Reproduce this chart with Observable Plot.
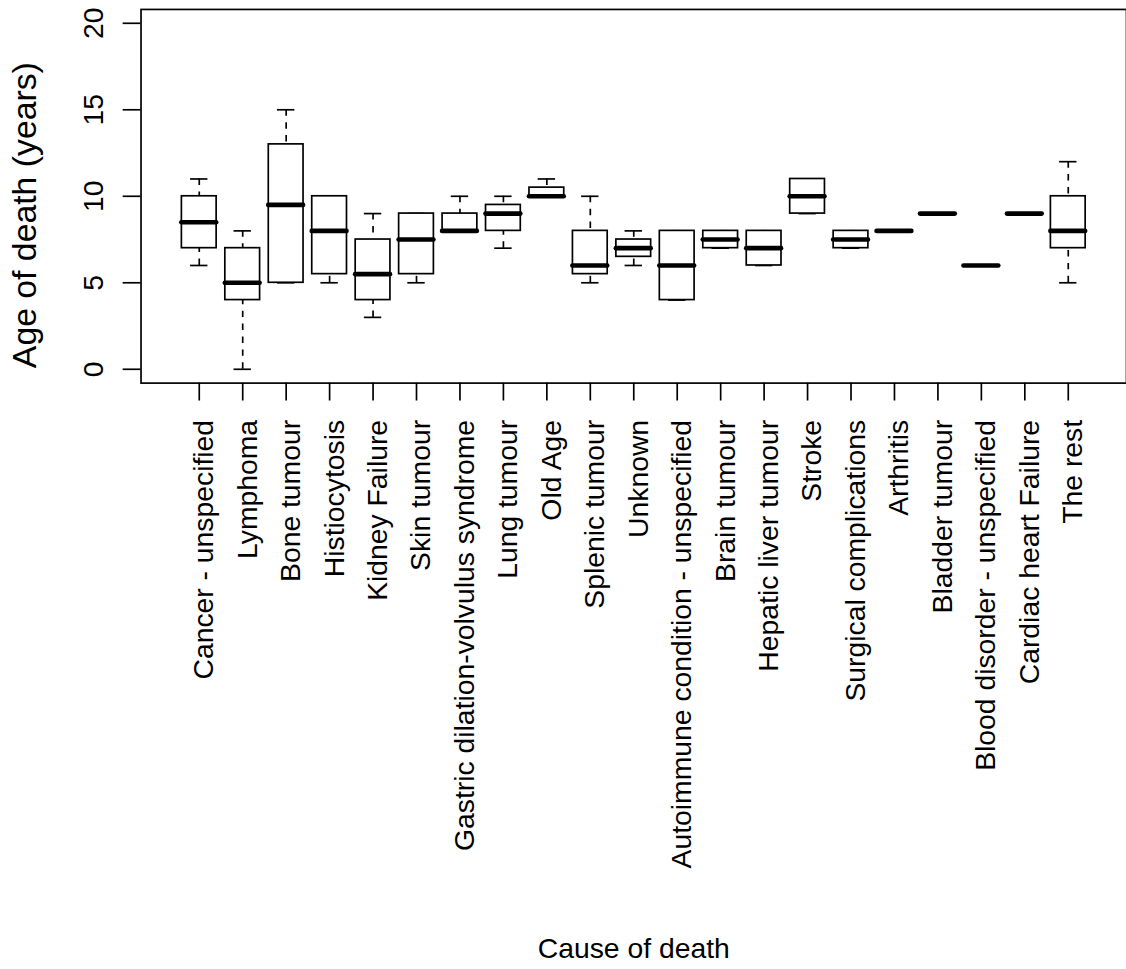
<!DOCTYPE html>
<html><head><meta charset="utf-8">
<script src="https://cdn.jsdelivr.net/npm/d3@7"></script>
<script src="https://cdn.jsdelivr.net/npm/@observablehq/plot@0.6"></script>
<style>
html,body{margin:0;padding:0;background:#fff;overflow:hidden;}
</style></head><body><div id="chart"></div>
<script>
const categories = [
  "Cancer - unspecified", "Lymphoma", "Bone tumour", "Histiocytosis", "Kidney Failure",
  "Skin tumour", "Gastric dilation-volvulus syndrome", "Lung tumour", "Old Age", "Splenic tumour",
  "Unknown", "Autoimmune condition - unspecified", "Brain tumour", "Hepatic liver tumour", "Stroke",
  "Surgical complications", "Arthritis", "Bladder tumour", "Blood disorder - unspecified",
  "Cardiac heart Failure", "The rest"
];
const lowerWhisker = [6, 0, 5, 5, 3, 5, 8, 7, 10, 5, 6, 4, 7, 6, 9, 7, 8, 9, 6, 9, 5];
const lowerHinge   = [7, 4, 5, 5.5, 4, 5.5, 8, 8, 10, 5.5, 6.5, 4, 7, 6, 9, 7, 8, 9, 6, 9, 7];
const medians      = [8.5, 5, 9.5, 8, 5.5, 7.5, 8, 9, 10, 6, 7, 6, 7.5, 7, 10, 7.5, 8, 9, 6, 9, 8];
const upperHinge   = [10, 7, 13, 10, 7.5, 9, 9, 9.5, 10.5, 8, 7.5, 8, 8, 8, 11, 8, 8, 9, 6, 9, 10];
const upperWhisker = [11, 8, 15, 10, 9, 9, 10, 10, 11, 10, 8, 8, 8, 8, 11, 8, 8, 9, 6, 9, 12];
const yTicks = [0, 5, 10, 15, 20];
const xTitle = "Cause of death";
const yTitle = "Age of death (years)";

const data = categories.map((c, i) => ({
  cause: c, lo: lowerWhisker[i], q1: lowerHinge[i], med: medians[i], q3: upperHinge[i], hi: upperWhisker[i]
}));

const W = 1133, H = 969, mL = 141.4, mT = 9, mB = 584, mR = 0;
const pInner = 0.2, pOuter = 0.94;
const step = (W - mL - mR) / (categories.length - pInner + 2 * pOuter);
const bw = step * (1 - pInner);
const FONT = "'Liberation Sans', Arial, Helvetica, sans-serif";
const FS = 28.5;
const LW = 1.7;

const chart = Plot.plot({
  width: W, height: H,
  marginLeft: mL, marginTop: mT, marginBottom: mB, marginRight: mR,
  style: {fontFamily: FONT, fontSize: FS + "px", color: "black", background: "white", overflow: "visible"},
  x: {type: "band", domain: categories, paddingInner: pInner, paddingOuter: pOuter, round: false, axis: null},
  y: {domain: [-0.8, 20.8], axis: null},
  marks: [
    Plot.ruleX(data, {x: "cause", y1: "hi", y2: "q3", stroke: "black", strokeWidth: LW, strokeDasharray: "6.5,6.5"}),
    Plot.ruleX(data, {x: "cause", y1: "lo", y2: "q1", stroke: "black", strokeWidth: LW, strokeDasharray: "6.5,6.5"}),
    Plot.tickY(data, {x: "cause", y: "hi", insetLeft: bw / 4, insetRight: bw / 4, stroke: "black", strokeWidth: LW}),
    Plot.tickY(data, {x: "cause", y: "lo", insetLeft: bw / 4, insetRight: bw / 4, stroke: "black", strokeWidth: LW}),
    Plot.barY(data, {x: "cause", y1: "q1", y2: "q3", fill: "white", stroke: "black", strokeWidth: LW}),
    Plot.tickY(data, {x: "cause", y: "med", stroke: "black", strokeWidth: 4.7, strokeLinecap: "round"}),
    Plot.frame({stroke: "black", strokeWidth: LW}),
    Plot.axisX({tickSize: 18, tickFormat: () => "", label: null, stroke: "black", strokeWidth: LW}),
    Plot.axisY({ticks: yTicks, tickSize: 18, tickFormat: () => "", label: null, stroke: "black", strokeWidth: LW}),
    Plot.text(categories, {x: d => d, frameAnchor: "bottom", rotate: -90, textAnchor: "end", lineAnchor: "bottom",
      dx: 14, dy: 37, fontSize: FS, fontFamily: FONT, fill: "black"}),
    Plot.text(yTicks, {y: d => d, frameAnchor: "left", rotate: -90, textAnchor: "middle", lineAnchor: "bottom",
      dx: -38, text: d => String(d), fontSize: FS, fontFamily: FONT, fill: "black"}),
    Plot.text([yTitle], {frameAnchor: "left", rotate: -90, textAnchor: "middle", lineAnchor: "bottom",
      dx: 36 - mL, dy: 19, fontSize: 34, fontFamily: FONT, fill: "black"}),
    Plot.text([xTitle], {frameAnchor: "bottom", lineAnchor: "bottom", dy: 963 - (H - mB),
      fontSize: FS, fontFamily: FONT, fill: "black"})
  ]
});
document.getElementById("chart").appendChild(chart);
</script>
</body></html>
